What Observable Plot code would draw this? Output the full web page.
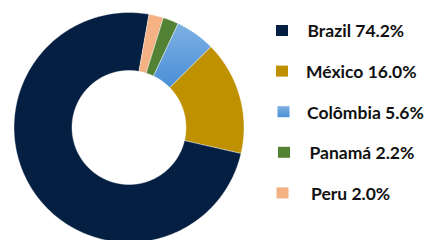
<!DOCTYPE html>
<html>
<head>
<meta charset="utf-8">
<script src="https://cdn.jsdelivr.net/npm/d3@7"></script>
<script src="https://cdn.jsdelivr.net/npm/@observablehq/plot@0.6"></script>
<style>
  html, body { margin: 0; padding: 0; background: #fff; }
  #chart svg { display: block; }
</style>
</head>
<body>
<div id="chart"></div>
<script>
// ---- data ----
const countries = ["Brazil", "México", "Colômbia", "Panamá", "Peru"];
const shares = [74.2, 16.0, 5.6, 2.2, 2.0];
const shareLabels = ["74.2%", "16.0%", "5.6%", "2.2%", "2.0%"];
const colors = ["#041f42", "#bf9000", "url(#colGrad)", "#548235", "#f4b183"];

// ---- layout ----
const W = 430, H = 240;
const cx = 128.5, cy = 127, R = 115, r0 = 57;
const startDeg = 10;
const legTop = 30.5, legStep = 40.6, sq = 12;
const sqXs = [276, 276, 277.5, 278, 276.5];
const txtXs = [307, 305.5, 306.5, 309, 310.5];

const pie = d3.pie().sort(null).value(d => d.share)
  .startAngle(startDeg * Math.PI / 180)
  .endAngle((startDeg - 360) * Math.PI / 180);

const rows = countries.map((c, i) => ({name: c, share: shares[i], label: shareLabels[i], color: colors[i], i}));
const arcs = pie(rows);

// polygon points for each slice
const pts = [];
for (const a of arcs) {
  const n = Math.max(8, Math.ceil(Math.abs(a.endAngle - a.startAngle) / 0.01));
  const ring = [];
  for (let k = 0; k <= n; k++) {
    const t = a.startAngle + (a.endAngle - a.startAngle) * k / n;
    ring.push({x: cx + R * Math.sin(t), y: cy - R * Math.cos(t)});
  }
  for (let k = n; k >= 0; k--) {
    const t = a.startAngle + (a.endAngle - a.startAngle) * k / n;
    ring.push({x: cx + r0 * Math.sin(t), y: cy - r0 * Math.cos(t)});
  }
  ring.forEach(p => pts.push({...p, name: a.data.name}));
}

const leg = rows.map(d => ({...d, yc: legTop + d.i * legStep, sx: sqXs[d.i], tx: txtXs[d.i]}));

const marks = rows.map(d =>
  Plot.line(pts.filter(p => p.name === d.name), {
    x: "x", y: "y", curve: "linear-closed",
    fill: d.color, stroke: "#ffffff", strokeWidth: 0.6, strokeOpacity: 0.7
  })
);

const plot = Plot.plot({
  width: W, height: H,
  margin: 0,
  x: {domain: [0, W], range: [0, W], axis: null},
  y: {domain: [0, H], range: [0, H], axis: null},
  style: {fontFamily: "Lato, 'Open Sans', sans-serif", background: "#fff"},
  marks: [
    ...marks,
    Plot.rect(leg, {
      x1: d => d.sx, x2: d => d.sx + sq,
      y1: d => d.yc - sq / 2 + 0.5, y2: d => d.yc + sq / 2 - 0.5,
      fill: d => d.color
    }),
    Plot.text(leg, {
      x: d => d.tx, y: d => d.yc + 0.8,
      text: d => `${d.name} ${d.label}`,
      textAnchor: "start", fontWeight: "bold", fontSize: 17.5, fill: "#111"
    })
  ]
});

// gradient definition used by Colômbia
const svg = d3.select(plot);
const defs = svg.insert("defs", ":first-child");
const g = defs.append("linearGradient").attr("id", "colGrad")
  .attr("x1", 0).attr("y1", 0).attr("x2", 0).attr("y2", 1);
g.append("stop").attr("offset", "0%").attr("stop-color", "#7db0e2");
g.append("stop").attr("offset", "100%").attr("stop-color", "#4a8fd6");

document.getElementById("chart").appendChild(plot);
</script>
</body>
</html>
